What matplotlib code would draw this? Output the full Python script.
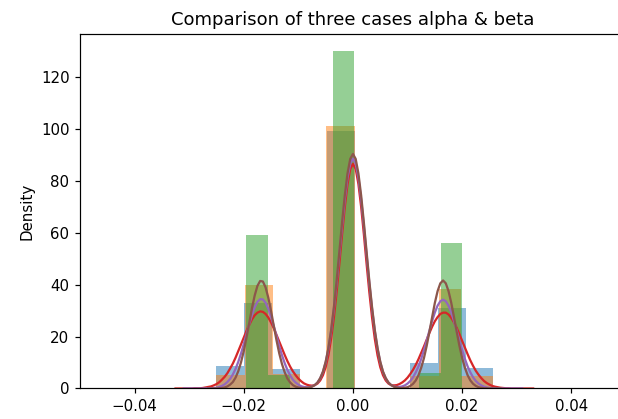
import numpy as np
import matplotlib
matplotlib.use("Agg")
import matplotlib.pyplot as plt

# ---- histogram data (bin edges and density heights) ----
blue_edges = [-0.02502, -0.01993, -0.01485, -0.00976, -0.00469, 0.00038, 0.00544, 0.01051, 0.01557, 0.02064, 0.02571]
blue_heights = [8.8, 33.0, 7.5, 0.0, 99.0, 0.0, 0.0, 9.7, 31.0, 7.8]

orange_edges = [-0.02502, -0.01983, -0.01465, -0.00976, -0.00488, 0.00031, 0.01040, 0.01577, 0.01987, 0.02560]
orange_heights = [5.2, 40.0, 5.5, 0.0, 101.0, 0.0, 5.0, 38.4, 5.0]

green_edges = [-0.01952, -0.01556, -0.01161, -0.00765, -0.00370, 0.00026, 0.00421, 0.00817, 0.01212, 0.01608, 0.02004]
green_heights = [59.0, 5.2, 0.0, 0.0, 130.0, 0.0, 0.0, 0.0, 6.0, 56.0]

# ---- density curves (x range and values on a 0.0005 grid) ----
red_range = (-0.0325, 0.0330)
red_y = [0.0, 0.0, 0.0, 0.0, 0.0, 0.0, 0.0, 0.1, 0.1, 0.1, 0.2, 0.4, 0.6, 0.8, 1.2, 1.7, 2.4, 3.4, 4.5, 5.9,
         7.7, 9.6, 11.9, 14.4, 17.0, 19.6, 22.2, 24.5, 26.6, 28.2, 29.2, 29.7, 29.5, 28.7, 27.3, 25.4, 23.2, 20.6, 18.0, 15.4,
         12.9, 10.5, 8.4, 6.6, 5.1, 3.8, 2.8, 2.0, 1.5, 1.2, 1.1, 1.3, 1.9, 3.1, 5.1, 8.2, 12.8, 19.1, 27.2, 37.0,
         47.9, 59.3, 69.9, 78.7, 84.5, 86.5, 84.5, 78.7, 69.9, 59.3, 47.9, 37.0, 27.2, 19.1, 12.8, 8.2, 5.1, 3.1, 1.9, 1.3,
         1.2, 1.3, 1.7, 2.3, 3.1, 4.2, 5.6, 7.2, 9.1, 11.3, 13.7, 16.2, 18.8, 21.4, 23.8, 25.9, 27.5, 28.7, 29.2, 29.2,
         28.5, 27.2, 25.5, 23.3, 20.9, 18.3, 15.7, 13.2, 10.8, 8.7, 6.8, 5.3, 4.0, 2.9, 2.1, 1.5, 1.0, 0.7, 0.5, 0.3,
         0.2, 0.1, 0.1, 0.0, 0.0, 0.0, 0.0, 0.0, 0.0, 0.0, 0.0, 0.0]

purple_range = (-0.0310, 0.0310)
purple_y = [0.0, 0.0, 0.0, 0.0, 0.0, 0.0, 0.0, 0.0, 0.0, 0.1, 0.1, 0.2, 0.3, 0.6, 1.0, 1.6, 2.5, 3.7, 5.4, 7.6,
            10.3, 13.5, 17.1, 20.9, 24.8, 28.3, 31.3, 33.4, 34.4, 34.3, 33.0, 30.7, 27.6, 24.0, 20.2, 16.3, 12.8, 9.7, 7.1, 5.0,
            3.4, 2.3, 1.5, 0.9, 0.6, 0.5, 0.5, 0.8, 1.3, 2.3, 3.9, 6.4, 10.1, 15.3, 22.1, 30.6, 40.5, 51.4, 62.5, 72.8,
            81.1, 86.6, 88.5, 86.6, 81.1, 72.8, 62.5, 51.4, 40.5, 30.6, 22.1, 15.3, 10.1, 6.4, 3.9, 2.3, 1.3, 0.8, 0.6, 0.6,
            0.8, 1.2, 1.9, 2.9, 4.3, 6.2, 8.5, 11.4, 14.8, 18.4, 22.3, 26.0, 29.3, 31.9, 33.6, 34.2, 33.6, 31.9, 29.3, 26.0,
            22.3, 18.4, 14.8, 11.4, 8.5, 6.2, 4.3, 2.9, 1.9, 1.2, 0.7, 0.4, 0.2, 0.1, 0.1, 0.0, 0.0, 0.0, 0.0, 0.0,
            0.0, 0.0, 0.0, 0.0, 0.0]

brown_range = (-0.0265, 0.0270)
brown_y = [0.0, 0.0, 0.0, 0.0, 0.1, 0.2, 0.4, 0.8, 1.5, 2.5, 4.2, 6.7, 10.1, 14.4, 19.6, 25.2, 30.9, 35.8, 39.5, 41.4,
           41.2, 38.9, 34.9, 29.8, 24.1, 18.5, 13.5, 9.4, 6.2, 3.8, 2.3, 1.3, 0.7, 0.4, 0.2, 0.2, 0.2, 0.4, 0.7, 1.3,
           2.3, 4.0, 6.5, 10.3, 15.6, 22.5, 31.2, 41.3, 52.5, 63.8, 74.3, 82.8, 88.4, 90.3, 88.4, 82.8, 74.3, 63.8, 52.5, 41.3,
           31.2, 22.5, 15.6, 10.3, 6.5, 4.0, 2.3, 1.3, 0.7, 0.4, 0.2, 0.2, 0.3, 0.5, 1.0, 1.8, 3.1, 5.1, 8.0, 11.7,
           16.4, 21.8, 27.5, 33.0, 37.5, 40.5, 41.6, 40.5, 37.5, 33.0, 27.5, 21.8, 16.4, 11.7, 8.0, 5.1, 3.1, 1.8, 1.0, 0.5,
           0.3, 0.1, 0.1, 0.0, 0.0, 0.0, 0.0, 0.0]

title = "Comparison of three cases alpha & beta"
ylabel = "Density"
x_limits = (-0.05, 0.05)

fig = plt.figure(figsize=(618 / 108, 419 / 108), dpi=108)
ax = fig.add_axes([0.1294, 0.0728, 0.8835, 0.8461])


def centers(e):
    e = np.asarray(e)
    return (e[:-1] + e[1:]) / 2


ax.hist(centers(blue_edges), bins=blue_edges, weights=blue_heights, alpha=0.5, color="C0")
ax.hist(centers(orange_edges), bins=orange_edges, weights=orange_heights, alpha=0.5, color="C1")
ax.hist(centers(green_edges), bins=green_edges, weights=green_heights, alpha=0.5, color="C2")

for rng, ys, col in [(red_range, red_y, "C3"), (purple_range, purple_y, "C4"), (brown_range, brown_y, "C5")]:
    xs = np.linspace(rng[0], rng[1], len(ys))
    ax.plot(xs, ys, color=col, lw=1.5)

ax.set_xlim(*x_limits)
ax.set_title(title)
ax.set_ylabel(ylabel)
fig.savefig("out.png", dpi=108)
